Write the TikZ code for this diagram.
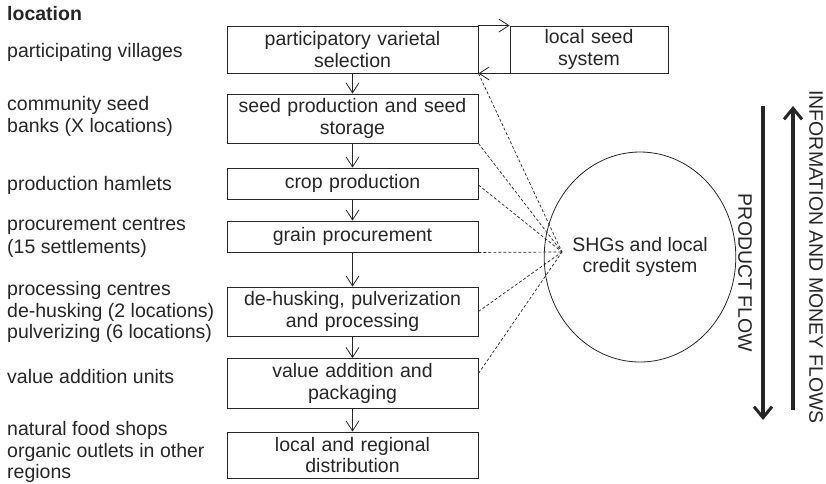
\documentclass[tikz,border=0pt]{standalone}
\usepackage{fontspec}
\setmainfont{Liberation Sans}
\usetikzlibrary{arrows.meta,shapes.geometric}
\definecolor{ink}{HTML}{262626}
\begin{document}
\begin{tikzpicture}[x=1pt,y=-1pt,
  every node/.style={text=ink,font=\fontsize{19.5}{21.5}\selectfont},
  proc/.style={draw=ink,line width=0.9pt,minimum width=251pt,text width=245pt,align=center,inner sep=0pt},
  lbl/.style={anchor=base west,inner sep=0pt},
  flow/.style={draw=ink,line width=0.8pt,-{Straight Barb[length=10pt,width=13pt]}},
  link/.style={draw=ink,line width=0.7pt,dash pattern=on 3pt off 2pt},
  big/.style={draw=ink,line width=3.2pt,-{Straight Barb[length=11pt,width=18pt,line width=3pt]}}
]
\useasboundingbox (0,0) rectangle (826,483);

% process boxes
\node[proc,minimum height=47pt] (pvs) at (352.5,49.5) {participatory varietal\\selection};
\node[proc,minimum width=158pt,text width=150pt,minimum height=47pt] (lss) at (589,49.5) {local seed\\system};
\node[proc,minimum height=49pt] (spb) at (352.5,118.5) {seed production and seed\\storage};
\node[proc,minimum height=31pt] (crop) at (352.5,183.5) {crop production};
\node[proc,minimum height=31pt] (grain) at (352.5,236.5) {grain procurement};
\node[proc,minimum height=49pt] (dehusk) at (352.5,311.5) {de-husking, pulverization\\and processing};
\node[proc,minimum height=50pt] (value) at (352.5,383.5) {value addition and\\packaging};
\node[proc,minimum height=46pt] (dist) at (352.5,455) {local and regional\\distribution};

% ellipse
\node[draw=ink,ellipse,line width=0.8pt,minimum width=157pt,minimum height=210pt,inner sep=0pt,align=center] (shg) at (640,257) {SHGs and local\\credit system};
\coordinate (hub) at (562,252);

% flow arrows
\draw[flow] (pvs.north east) -- (lss.north west);
\draw[flow] (lss.south west) -- (pvs.south east);
\draw[flow] (pvs.south) -- (spb.north);
\draw[flow] (spb.south) -- (crop.north);
\draw[flow] (crop.south) -- (grain.north);
\draw[flow] (grain.south) -- (dehusk.north);
\draw[flow] (dehusk.south) -- (value.north);
\draw[flow] (value.south) -- (dist.north);

% dashed links
\draw[link] (pvs.south east) -- (hub);
\draw[link] (spb.south east) -- (hub);
\draw[link] ([yshift=-1.5pt]crop.east) -- (hub);
\draw[link] (grain.south east) -- (hub);
\draw[link] (dehusk.east) -- (hub);
\draw[link] ([yshift=10pt]value.east) -- (hub);

% big flow arrows
\coordinate (pfa) at (763,106);
\coordinate (pfb) at (763,420);
\coordinate (ima) at (793,410);
\coordinate (imb) at (793,106);
\draw[big] (pfa) -- (pfb);
\draw[big] (ima) -- (imb);
\node[rotate=-90,inner sep=0pt] (pft) at (745,273) {PRODUCT FLOW};
\node[rotate=-90,inner sep=0pt] (imt) at (816,257) {INFORMATION AND MONEY FLOWS};

% location labels
\node[lbl,font=\fontsize{19.5}{21.5}\selectfont\bfseries] (l0) at (7,20.5) {location};
\node[lbl] (l1) at (7,57) {participating villages};
\node[lbl] (l2a) at (7,110) {community seed};
\node[lbl] (l2b) at (7,132) {banks (X locations)};
\node[lbl] (l3) at (7,190) {production hamlets};
\node[lbl] (l4a) at (7,230) {procurement centres};
\node[lbl] (l4b) at (7,253) {(15 settlements)};
\node[lbl] (l5a) at (7,295) {processing centres};
\node[lbl] (l5b) at (7,317) {de-husking (2 locations)};
\node[lbl] (l5c) at (7,338) {pulverizing (6 locations)};
\node[lbl] (l6) at (7,383) {value addition units};
\node[lbl] (l7a) at (7,435) {natural food shops};
\node[lbl] (l7b) at (7,457) {organic outlets in other};
\node[lbl] (l7c) at (7,478) {regions};
\end{tikzpicture}
\end{document}
